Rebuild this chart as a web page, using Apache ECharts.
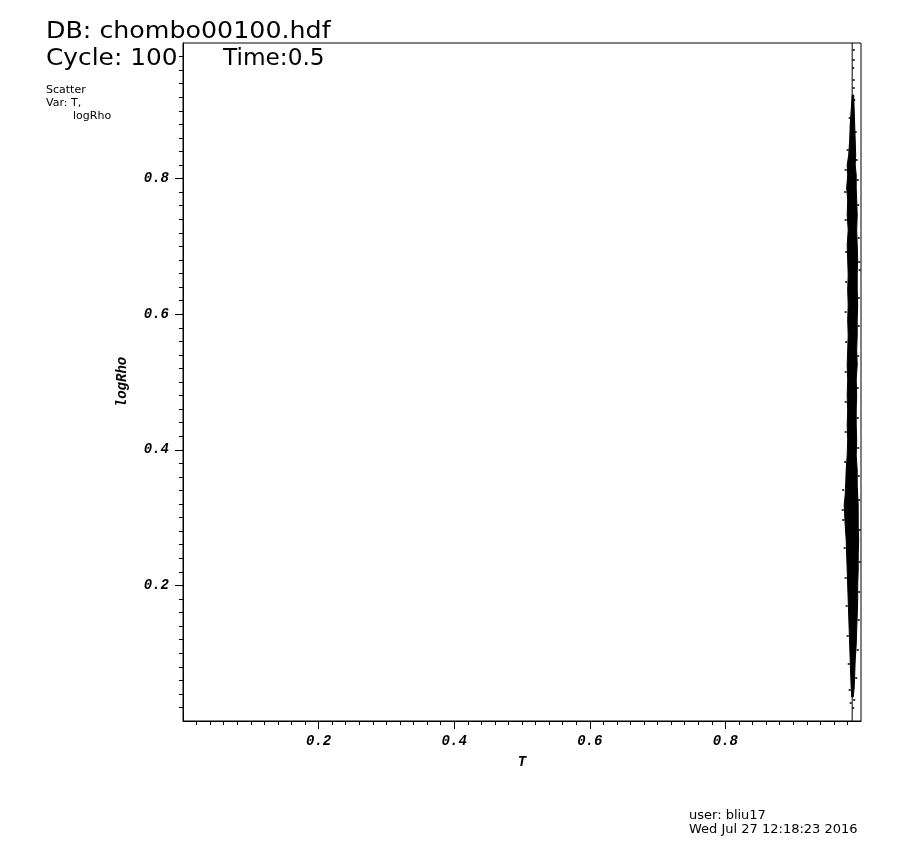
<!DOCTYPE html>
<html>
<head>
<meta charset="utf-8">
<script src="https://cdn.jsdelivr.net/npm/echarts@6/dist/echarts.min.js"></script>
<style>
html,body{margin:0;padding:0;background:#fff;}
#chart{width:920px;height:848px;}
</style>
</head>
<body>
<div id="chart"></div>
<script>
// Axis ticks (labelled major ticks)
var xTicks = [0.2, 0.4, 0.6, 0.8];
var yTicks = [0.2, 0.4, 0.6, 0.8];

// Envelope of the dense point cloud (logRho level, left T edge, right T edge)
var envY     = [0.9233, 0.9012, 0.8791, 0.8569, 0.8348, 0.8201, 0.8053, 0.7861, 0.7684, 0.7463, 0.7242, 0.7021, 0.6799, 0.6578, 0.6357, 0.6136, 0.5914, 0.5693, 0.5472, 0.5251, 0.5029, 0.4808, 0.4587, 0.4366, 0.4145, 0.3923, 0.3702, 0.3481, 0.3333, 0.3186, 0.3038, 0.2891, 0.2670, 0.2448, 0.2227, 0.2006, 0.1785, 0.1563, 0.1342, 0.1121, 0.0900, 0.0678, 0.0487, 0.0354];
var envLeft  = [0.98701, 0.98554, 0.98406, 0.98332, 0.98185, 0.97963, 0.98037, 0.97889, 0.98037, 0.97963, 0.98111, 0.97963, 0.98037, 0.98111, 0.98037, 0.98111, 0.98037, 0.98111, 0.98037, 0.97963, 0.98037, 0.97963, 0.98037, 0.97963, 0.98037, 0.97963, 0.97816, 0.97742, 0.97668, 0.97520, 0.97594, 0.97668, 0.97816, 0.97889, 0.97963, 0.98037, 0.98111, 0.98185, 0.98258, 0.98332, 0.98406, 0.98480, 0.98554, 0.98627];
var envRight = [0.98923, 0.98996, 0.99070, 0.99144, 0.99218, 0.99144, 0.99292, 0.99292, 0.99365, 0.99439, 0.99365, 0.99439, 0.99513, 0.99439, 0.99439, 0.99513, 0.99439, 0.99439, 0.99365, 0.99439, 0.99292, 0.99365, 0.99292, 0.99292, 0.99365, 0.99292, 0.99439, 0.99439, 0.99513, 0.99587, 0.99587, 0.99587, 0.99661, 0.99587, 0.99587, 0.99513, 0.99513, 0.99439, 0.99365, 0.99292, 0.99144, 0.99070, 0.98996, 0.98849];

// Vertical column of points at constant T
var colX = [0.987, 0.987];
var colY = [0.0, 1.0];

// Scattered points around the cloud
var outT = [0.98923, 0.98923, 0.98849, 0.98923, 0.98923, 0.98996, 0.98332, 0.99218, 0.98037, 0.99365, 0.97742, 0.99513, 0.97668, 0.99587, 0.97742, 0.99661, 0.97816, 0.99734, 0.99808, 0.97816, 0.99661, 0.97742, 0.99661, 0.97816, 0.99587, 0.97742, 0.99513, 0.97742, 0.99513, 0.97742, 0.99587, 0.97668, 0.99661, 0.97373, 0.99734, 0.97299, 0.97373, 0.99808, 0.97594, 0.99808, 0.97742, 0.99734, 0.97889, 0.99661, 0.98037, 0.99513, 0.98185, 0.99292, 0.98332, 0.98996, 0.98480, 0.98849];
var outR = [0.9897, 0.9749, 0.9631, 0.9454, 0.9336, 0.9159, 0.8894, 0.8687, 0.8422, 0.8274, 0.8127, 0.7979, 0.7802, 0.7611, 0.7389, 0.7124, 0.6917, 0.6770, 0.6652, 0.6475, 0.6239, 0.6032, 0.5826, 0.5590, 0.5383, 0.5147, 0.4912, 0.4705, 0.4469, 0.4263, 0.4027, 0.3820, 0.3614, 0.3407, 0.3260, 0.3112, 0.2965, 0.2817, 0.2552, 0.2345, 0.2109, 0.1903, 0.1696, 0.1490, 0.1254, 0.1047, 0.0841, 0.0634, 0.0457, 0.0310, 0.0265, 0.0192];

var colData = colX.map(function (x, i) { return [x, colY[i]]; });
var outData = outT.map(function (x, i) { return [x, outR[i]]; });

var chart = echarts.init(document.getElementById('chart'), null, {renderer: 'canvas'});

var labelFont = {fontFamily: 'Liberation Mono', fontWeight: 'bold', fontStyle: 'italic', fontSize: 14, color: '#000'};
function makeFmt(ticks) {
  return function (v) {
    for (var i = 0; i < ticks.length; i++) { if (Math.abs(v - ticks[i]) < 1e-9) return ticks[i].toFixed(1); }
    return '';
  };
}

function axisCfg(name, ticks, nameGap, margin) {
  return {
    type: 'value', min: 0, max: 1, interval: 0.2,
    name: name, nameLocation: 'middle', nameGap: nameGap,
    nameTextStyle: {fontFamily: 'Liberation Mono', fontWeight: 'bold', fontStyle: 'italic', fontSize: 14, color: '#000'},
    axisLine: {show: true, lineStyle: {color: '#000', width: 1}},
    axisTick: {show: true, inside: false, length: 8, customValues: ticks, lineStyle: {color: '#000', width: 1}},
    minorTick: {show: true, splitNumber: 10, length: 4, lineStyle: {color: '#000', width: 1}},
    splitLine: {show: false},
    minorSplitLine: {show: false},
    axisLabel: Object.assign({margin: margin, customValues: ticks, formatter: makeFmt(ticks)}, labelFont)
  };
}

var option = {
  animation: false,
  backgroundColor: '#fff',
  grid: {left: 183, top: 43, width: 678, height: 678, show: true, borderColor: '#000', borderWidth: 1, backgroundColor: 'transparent'},
  xAxis: axisCfg('T', xTicks, 34, 13),
  yAxis: Object.assign(axisCfg('logRho', yTicks, 54, 14), {nameRotate: 90}),
  series: [
    {
      type: 'custom',
      coordinateSystem: 'cartesian2d',
      data: [[envLeft[0], envY[0]]],
      silent: true,
      renderItem: function (params, api) {
        var pts = [];
        for (var i = 0; i < envY.length; i++) pts.push(api.coord([envLeft[i], envY[i]]));
        for (var j = envY.length - 1; j >= 0; j--) pts.push(api.coord([envRight[j], envY[j]]));
        return {type: 'polygon', shape: {points: pts}, style: {fill: '#000', stroke: '#000', lineWidth: 1}};
      }
    },
    {
      type: 'line', data: colData, symbol: 'none', silent: true,
      lineStyle: {color: '#000', width: 1}
    },
    {
      type: 'scatter', data: outData, symbol: 'rect', symbolSize: 2, silent: true,
      itemStyle: {color: '#000'}
    }
  ],
  graphic: [
    {type: 'text', x: 46, y: 21, scaleX: 1.1, z: 100, style: {text: 'DB: chombo00100.hdf', font: '23px "DejaVu Sans"', fill: '#000', verticalAlign: 'top'}},
    {type: 'text', x: 46, y: 48, scaleX: 1.08, z: 100, style: {text: 'Cycle: 100', font: '23px "DejaVu Sans"', fill: '#000', verticalAlign: 'top'}},
    {type: 'text', x: 223, y: 48, scaleX: 1.01, z: 100, style: {text: 'Time:0.5', font: '23px "DejaVu Sans"', fill: '#000', verticalAlign: 'top'}},
    {type: 'text', x: 46, y: 85, z: 100, style: {text: 'Scatter', font: '11px "DejaVu Sans"', fill: '#000', verticalAlign: 'top'}},
    {type: 'text', x: 46, y: 98, z: 100, style: {text: 'Var: T,', font: '11px "DejaVu Sans"', fill: '#000', verticalAlign: 'top'}},
    {type: 'text', x: 73, y: 111, z: 100, style: {text: 'logRho', font: '11px "DejaVu Sans"', fill: '#000', verticalAlign: 'top'}},
    {type: 'text', x: 689, y: 809, z: 100, style: {text: 'user: bliu17', font: '13px "DejaVu Sans"', fill: '#000', verticalAlign: 'top'}},
    {type: 'text', x: 689, y: 823, z: 100, style: {text: 'Wed Jul 27 12:18:23 2016', font: '13px "DejaVu Sans"', fill: '#000', verticalAlign: 'top'}}
  ]
};
chart.setOption(option);
</script>
</body>
</html>
